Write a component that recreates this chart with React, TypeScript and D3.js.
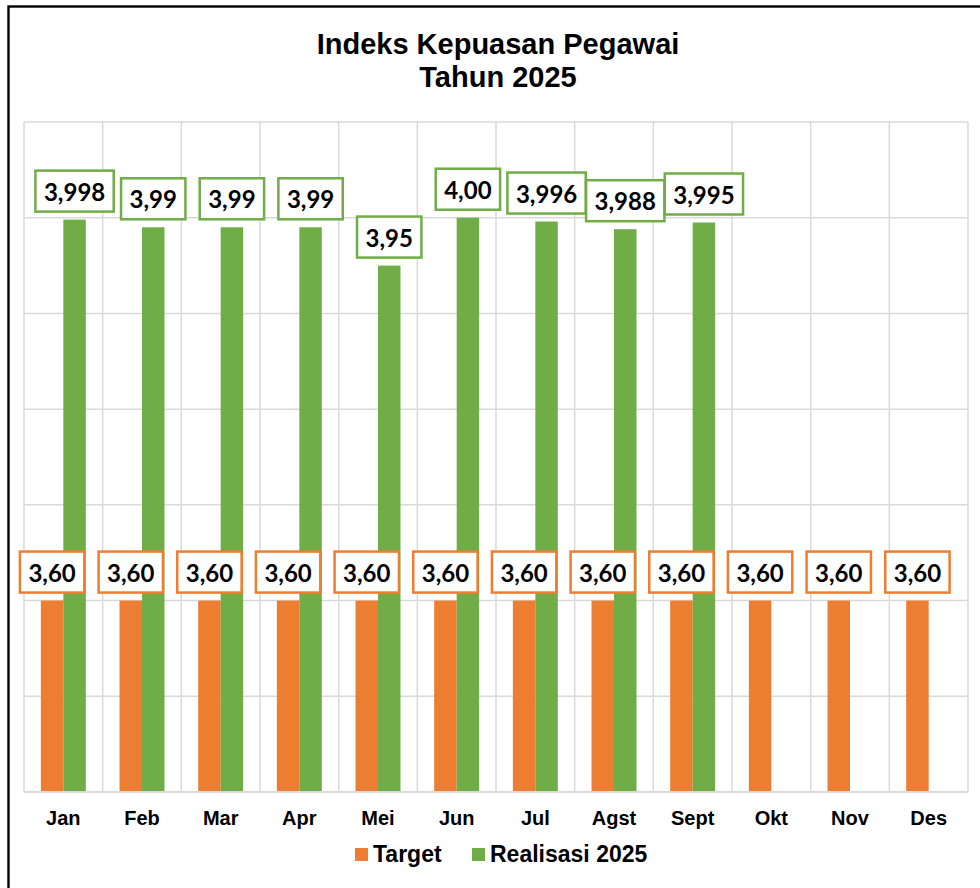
import React, { useEffect } from "react";
import * as d3 from "d3";

const months = ["Jan", "Feb", "Mar", "Apr", "Mei", "Jun", "Jul", "Agst", "Sept", "Okt", "Nov", "Des"];
const targetValues = [3.6, 3.6, 3.6, 3.6, 3.6, 3.6, 3.6, 3.6, 3.6, 3.6, 3.6, 3.6];
const realisasiValues: (number | null)[] = [3.998, 3.99, 3.99, 3.99, 3.95, 4.0, 3.996, 3.988, 3.995, null, null, null];
const seriesNames = ["Target", "Realisasi 2025"];
const seriesColors = ["#ED7D31", "#70AD47"];
const yTicks = [3.4, 3.5, 3.6, 3.7, 3.8, 3.9, 4.0, 4.1];
const titleLines = ["Indeks Kepuasan Pegawai", "Tahun 2025"];

const W = 980;
const H = 888;
const plot = { left: 24, right: 968, top: 122, bottom: 792 };

const LABEL_FONT = "Lato, 'Open Sans', sans-serif";
const LABEL_SIZE = 24;

function fmt(v: number): string {
  const two = Math.abs(Math.round(v * 100) - v * 100) < 1e-6;
  return (two ? v.toFixed(2) : v.toFixed(3)).replace(".", ",");
}

let ctx: CanvasRenderingContext2D | null = null;
function measure(text: string): number {
  if (!ctx) {
    const c = document.createElement("canvas");
    ctx = c.getContext("2d");
  }
  if (!ctx) return text.length * 13;
  ctx.font = `bold ${LABEL_SIZE}px Lato`;
  return ctx.measureText(text).width;
}

export default function App() {
  useEffect(() => {
    document.body.style.margin = "0";
  }, []);

  const x0 = d3.scaleBand<string>().domain(months).range([plot.left, plot.right]).padding(0);
  const x1 = d3
    .scaleBand<string>()
    .domain(seriesNames)
    .range([0, x0.bandwidth()])
    .paddingInner(0)
    .paddingOuter(0.75);
  const y = d3.scaleLinear().domain([3.4, 4.1]).range([plot.bottom, plot.top]);

  const series = [targetValues, realisasiValues];

  const labels: JSX.Element[] = [];
  const bars: JSX.Element[] = [];
  months.forEach((m, i) => {
    series.forEach((vals, s) => {
      const v = vals[i];
      if (v == null) return;
      const bx = (x0(m) as number) + (x1(seriesNames[s]) as number);
      const bw = x1.bandwidth();
      const top = y(v);
      bars.push(
        <rect key={`b-${s}-${i}`} x={bx} y={top} width={bw} height={plot.bottom - top} fill={seriesColors[s]} />
      );
      const text = fmt(v);
      const tw = measure(text);
      const boxW = tw + 17;
      const boxH = 41;
      const cx = bx + bw / 2;
      const boxBottom = top - 8;
      labels.push(
        <g key={`l-${s}-${i}`}>
          <rect
            x={cx - boxW / 2}
            y={boxBottom - boxH}
            width={boxW}
            height={boxH}
            fill="#FFFFFF"
            stroke={seriesColors[s]}
            strokeWidth={2.5}
          />
          <text
            x={cx}
            y={boxBottom - boxH + 30}
            textAnchor="middle"
            fontFamily={LABEL_FONT}
            fontWeight="bold"
            fontSize={LABEL_SIZE}
            fill="#000"
          >
            {text}
          </text>
        </g>
      );
    });
  });

  const vLines = months.map((m) => x0(m) as number).concat([plot.right]);

  return (
    <svg width={W} height={H} style={{ display: "block" }}>
      <rect x={0} y={0} width={W} height={H} fill="#FFFFFF" />
      <rect x={8.5} y={6.5} width={1200} height={1200} fill="none" stroke="#000" strokeWidth={2.4} />
      {titleLines.map((t, i) => (
        <text
          key={t}
          x={498}
          y={54 + i * 33}
          textAnchor="middle"
          fontFamily="'Liberation Sans', Arial, sans-serif"
          fontWeight="bold"
          fontSize={29}
          fill="#000"
        >
          {t}
        </text>
      ))}
      <g>
        {yTicks.map((t) => (
          <line key={`h-${t}`} x1={plot.left} x2={plot.right} y1={y(t)} y2={y(t)} stroke="#D9D9D9" strokeWidth={1.5} />
        ))}
        {vLines.map((vx, i) => (
          <line key={`v-${i}`} x1={vx} x2={vx} y1={plot.top} y2={plot.bottom} stroke="#D9D9D9" strokeWidth={1.5} />
        ))}
      </g>
      <g>{bars}</g>
      <line x1={plot.left} x2={plot.right} y1={plot.bottom} y2={plot.bottom} stroke="#D9D9D9" strokeWidth={2} />
      <g>{labels}</g>
      <g>
        {months.map((m) => (
          <text
            key={`x-${m}`}
            x={(x0(m) as number) + x0.bandwidth() / 2}
            y={825}
            textAnchor="middle"
            fontFamily="'Liberation Sans', Arial, sans-serif"
            fontWeight="bold"
            fontSize={20}
            fill="#000"
          >
            {m}
          </text>
        ))}
      </g>
      <g>
        <rect x={355} y={848} width={13} height={13} fill={seriesColors[0]} />
        <text x={373} y={862} fontFamily="'Liberation Sans', Arial, sans-serif" fontWeight="bold" fontSize={23} fill="#000">
          {seriesNames[0]}
        </text>
        <rect x={472} y={848} width={13} height={13} fill={seriesColors[1]} />
        <text x={490} y={862} fontFamily="'Liberation Sans', Arial, sans-serif" fontWeight="bold" fontSize={23} fill="#000">
          {seriesNames[1]}
        </text>
      </g>
    </svg>
  );
}
